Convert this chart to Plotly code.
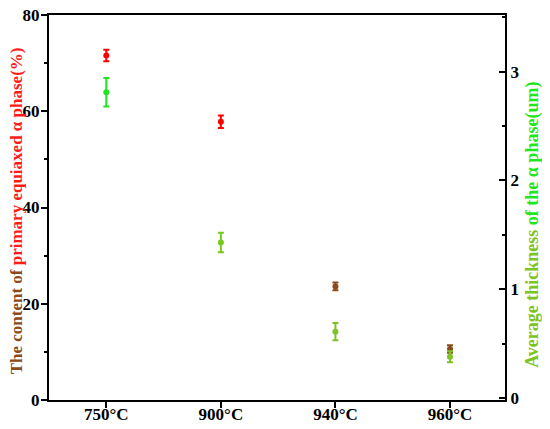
import plotly.graph_objects as go

temps = ["750°C", "900°C", "940°C", "960°C"]
content = [71.6, 57.8, 23.6, 10.6]
content_err = [1.2, 1.3, 0.8, 0.8]
thickness = [2.81, 1.43, 0.61, 0.38]
thickness_err = [0.13, 0.09, 0.08, 0.05]
content_colors = ["#ff0000", "#ff0000", "#8b4a1a", "#8b4a1a"]
thickness_colors = ["#1fe61f", "#77c81f", "#7cc423", "#7cc423"]

xpos = list(range(len(temps)))
font = "Liberation Serif, Times New Roman, serif"

fig = go.Figure()
for i in xpos:
    fig.add_trace(
        go.Scatter(
            x=[i], y=[content[i]], mode="markers",
            marker=dict(color=content_colors[i], size=6),
            error_y=dict(type="data", array=[content_err[i]], color=content_colors[i],
                         thickness=2, width=3),
            showlegend=False,
        )
    )
    fig.add_trace(
        go.Scatter(
            x=[i], y=[thickness[i]], mode="markers", yaxis="y2",
            marker=dict(color=thickness_colors[i], size=6),
            error_y=dict(type="data", array=[thickness_err[i]], color=thickness_colors[i],
                         thickness=2, width=3),
            showlegend=False,
        )
    )

# axis titles as rotated annotations so they sit exactly where the original has them
fig.add_annotation(
    text="<b><span style='color:#8b4a1a'>The content of </span>"
         "<span style='color:#ff1a1a'>primary equiaxed α phase(%)</span></b>",
    xref="paper", yref="paper", x=0, y=0.49, xshift=-33,
    xanchor="center", yanchor="middle", textangle=-90, showarrow=False,
    font=dict(family=font, size=17),
)
fig.add_annotation(
    text="<b><span style='color:#7cc423'>Average thickness </span>"
         "<span style='color:#1fe61f'>of the α phase(um)</span></b>",
    xref="paper", yref="paper", x=1, y=0.455, xshift=28,
    xanchor="center", yanchor="middle", textangle=-90, showarrow=False,
    font=dict(family=font, size=18),
)

# page body has an 8px margin, so the figure is drawn offset by 8px
fig.update_layout(
    width=550, height=429,
    paper_bgcolor="white", plot_bgcolor="white",
    margin=dict(l=41, r=53, t=7, b=37, autoexpand=False),
    font=dict(family=font, size=17, color="black"),
    xaxis=dict(
        range=[-0.5, 3.48], tickvals=xpos, ticktext=temps,
        showline=True, linecolor="black", linewidth=2, mirror=True,
        ticks="outside", ticklen=6, tickwidth=1.5, tickcolor="black",
        ticklabelstandoff=-8,
        showgrid=False, zeroline=False,
        tickfont=dict(family=font, size=17, color="black", weight="bold"),
    ),
    yaxis=dict(
        range=[0, 80], tickvals=[0, 20, 40, 60, 80],
        showline=True, linecolor="black", linewidth=2,
        ticks="outside", ticklen=6, tickwidth=1.5, tickcolor="black",
        ticklabelstandoff=-2,
        minor=dict(tickvals=[10, 30, 50, 70], ticks="outside", ticklen=3, tickcolor="black"),
        showgrid=False, zeroline=False, ticklabeloverflow="allow",
        tickfont=dict(family=font, size=17, color="black", weight="bold"),
    ),
    yaxis2=dict(
        overlaying="y", side="right", range=[-0.018, 3.52],
        tickvals=[0, 1, 2, 3],
        showline=True, linecolor="black", linewidth=2,
        ticks="inside", ticklen=6, tickwidth=1.5, tickcolor="black",
        minor=dict(tickvals=[0.5, 1.5, 2.5, 3.5], ticks="inside", ticklen=3, tickcolor="black"),
        showgrid=False, zeroline=False, ticklabeloverflow="allow",
        tickfont=dict(family=font, size=17, color="black", weight="bold"),
    ),
)

fig.write_html("out.html")
